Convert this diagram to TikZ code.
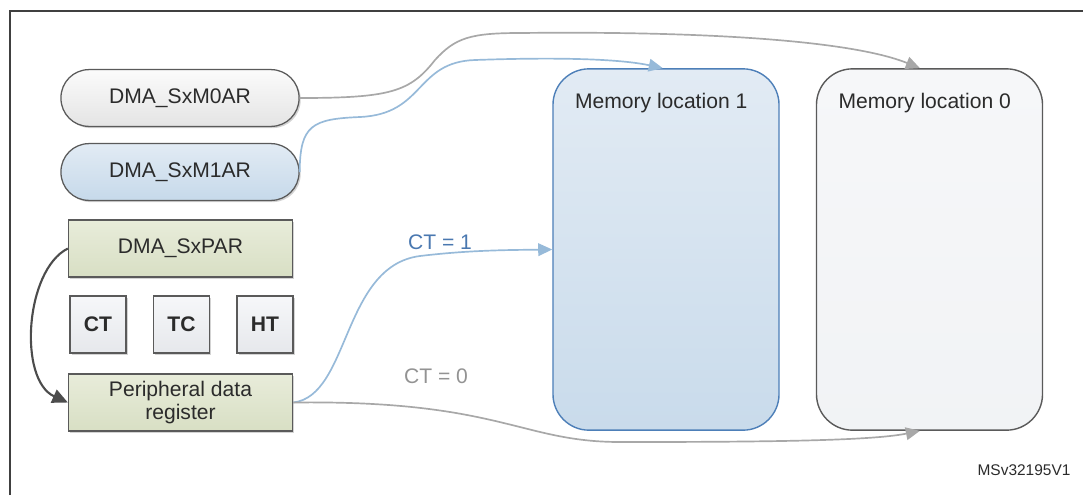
\documentclass[tikz,border=0pt]{standalone}
\usepackage{fontspec}
\setmainfont{Liberation Sans}
\usepackage{tikz}
\usetikzlibrary{arrows.meta, shadows}
\usepackage{xcolor}
\definecolor{edgegray}{HTML}{5A5A5A}
\definecolor{linkgray}{HTML}{A8A8A8}
\definecolor{linkblue}{HTML}{97BAD9}
\definecolor{textblue}{HTML}{4A78B0}
\definecolor{memblue}{HTML}{4D7FB8}
\definecolor{regtext}{HTML}{2B2B2B}
\definecolor{bluetop}{HTML}{E2EBF4}
\definecolor{bluebot}{HTML}{C6D9EA}
\definecolor{greentop}{HTML}{E8ECDA}
\definecolor{greenbot}{HTML}{D8DFC4}
\definecolor{graytop}{HTML}{FBFBFB}
\definecolor{graybot}{HTML}{E4E4E4}
\definecolor{flagtop}{HTML}{F6F7F9}
\definecolor{flagbot}{HTML}{E6E8EC}
\tikzset{%
	every reg/.style={
		draw=edgegray,
		line width=0.9pt,
		text=regtext,
		font=\fontsize{15}{18}\selectfont,
		drop shadow={shadow xshift=1.2pt, shadow yshift=-1.2pt, opacity=0.35, fill=gray}
	},
	reg pill/.style={
		every reg,
		rounded corners=0.7cm,
		minimum width=5.95cm,
		minimum height=1.42cm
	},
	reg box/.style={
		every reg,
		top color=greentop, bottom color=greenbot,
		minimum width=5.6cm,
		minimum height=1.42cm,
		align=center
	},
	flag box/.style={
		every reg,
		top color=flagtop, bottom color=flagbot,
		font=\fontsize{15}{18}\selectfont\bfseries,
		minimum width=1.4cm,
		minimum height=1.42cm
	},
	mem block/.style={
		line width=1pt,
		rounded corners=0.9cm,
		minimum width=5.65cm,
		minimum height=9.03cm
	},
	gray link/.style={
		draw=linkgray,
		line width=1.2pt,
		-{Triangle[length=10pt,width=9pt]}
	},
	blue link/.style={
		draw=linkblue,
		line width=1.2pt,
		-{Triangle[length=10pt,width=9pt]}
	},
}

\begin{document}
\begin{tikzpicture}[x=0.025cm, y=-0.025cm]

	\useasboundingbox (0,0) rectangle (1083,495);
	% frame
	\draw[line width=1.6pt, draw=black!75] (10,495) -- (10,11) -- (1083,11);

	% memory blocks
	\node[mem block, draw=memblue, top color=bluetop, bottom color=bluebot!90!bluetop,
		label={[anchor=center, yshift=-0.875cm, text=regtext, font=\fontsize{15}{18}\selectfont, xshift=-0.12cm]north:Memory location 1}]
		(mem1) at (666,249.5) {};
	\node[mem block, draw=edgegray, top color=flagtop, bottom color=flagtop!70!flagbot,
		label={[anchor=center, yshift=-0.875cm, text=regtext, font=\fontsize{15}{18}\selectfont, xshift=-0.12cm]north:Memory location 0}]
		(mem0) at (929.5,249.5) {};

	% registers
	\node[reg pill, top color=graytop, bottom color=graybot] (m0ar) at (180,98) {DMA\_SxM0AR};
	\node[reg pill, top color=bluetop, bottom color=bluebot] (m1ar) at (180,172) {DMA\_SxM1AR};
	\node[reg box] (par) at (180.5,248.5) {DMA\_SxPAR};
	\node[flag box] (ct) at (98,324.5) {CT};
	\node[flag box] (tc) at (181.5,324.5) {TC};
	\node[flag box] (ht) at (265,324.5) {HT};
	\node[reg box, font=\fontsize{15}{17}\selectfont] (pdr) at (180.5,402.5) {Peripheral data\\register};

	% links
	\draw[gray link] (m0ar.east) .. controls (390,98) and (410,92) .. (435,60)
		.. controls (455,38) and (470,33) .. (520,33)
		.. controls (700,31) and (850,40) .. ([xshift=-0.24cm]mem0.north);
	\draw[blue link] (m1ar.east) .. controls (300,125) and (312,119) .. (360,117)
		.. controls (425,114) and (415,62) .. (475,60)
		.. controls (560,57) and (620,59) .. ([xshift=-0.08cm]mem1.north);
	\draw[blue link] (pdr.east) .. controls (350,396) and (342,266) .. (420,256)
		.. controls (470,250) and (510,250) .. (mem1.west);
	\draw[gray link] (pdr.east) .. controls (500,400) and (520,442) .. (620,442)
		.. controls (760,442) and (870,441) .. ([xshift=-0.24cm]mem0.south);
	\draw[draw=black!70, line width=1.5pt, -{Triangle[length=11pt,width=10pt]}]
		(par.west) .. controls (25,270) and (18,380) .. (pdr.west);

	% labels
	\node[text=textblue, font=\fontsize{15}{18}\selectfont] (ct1) at (440,242) {CT = 1};
	\node[text=gray!85, font=\fontsize{15}{18}\selectfont] (ct0) at (436,376) {CT = 0};
	\node[text=regtext, font=\fontsize{11}{13}\selectfont] (docid) at (1024,470) {MSv32195V1};

\end{tikzpicture}
\end{document}
